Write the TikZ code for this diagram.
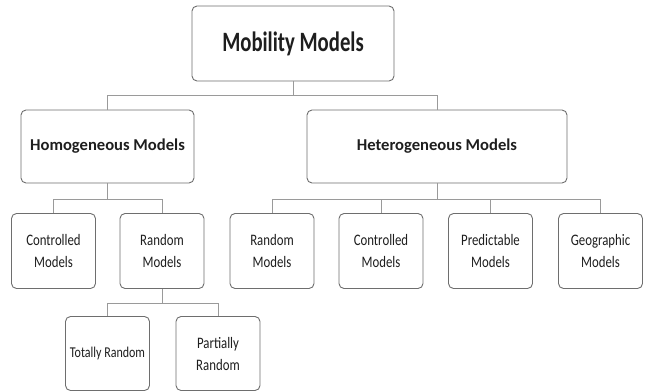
\documentclass[tikz,border=0pt]{standalone}
\usepackage{fontspec}
\setmainfont{Carlito}
\newfontfamily\condfont[FakeStretch=0.8]{Carlito}
\newfontfamily\tallfont[FakeStretch=0.74]{Carlito}
\definecolor{boxline}{HTML}{6E6E6E}
\definecolor{conline}{HTML}{9A9A9A}
\definecolor{txt}{HTML}{1E1E1E}
\begin{document}
\begin{tikzpicture}[x=1pt,y=-1pt,
  box/.style={draw=boxline, line width=0.9pt, rounded corners=5pt, fill=white,
    inner sep=0pt, align=center, text=txt},
  topbox/.style={box, minimum width=202pt, minimum height=75pt,
    font=\tallfont\bfseries\fontsize{28}{30}\selectfont},
  midbox/.style={box, minimum height=73pt,
    font=\bfseries\fontsize{16.6}{20}\selectfont},
  leaf/.style={box, minimum width=84pt, minimum height=75pt,
    font=\condfont\fontsize{16}{22}\selectfont},
  conn/.style={draw=conline, line width=0.9pt}]
\useasboundingbox (0,0) rectangle (645,391);

\node[topbox] (mob) at (293,43.5) {Mobility Models};
\node[midbox, minimum width=173pt] (hom) at (107.5,146.5) {Homogeneous Models};
\node[midbox, minimum width=260pt] (het) at (437,146.5) {Heterogeneous Models};

\node[leaf] (hctl) at (53.5,251) {Controlled\\Models};
\node[leaf] (hrnd) at (162,251) {Random\\Models};
\node[leaf] (trnd) at (272,251) {Random\\Models};
\node[leaf] (tctl) at (381,251) {Controlled\\Models};
\node[leaf] (tprd) at (490.5,251) {Predictable\\Models};
\node[leaf] (tgeo) at (600.5,251) {Geographic\\Models};

\node[leaf, minimum height=74pt, font=\condfont\fontsize{15}{22}\selectfont] (tot) at (107.5,353.5) {Totally Random};
\node[leaf, minimum height=74pt] (par) at (218,353.5) {Partially\\Random};

\coordinate (b1) at (0,95);
\coordinate (b2) at (0,199);
\coordinate (b3) at (0,303);

\draw[conn] (mob.south) -- (mob.south |- b1);
\draw[conn] (hom.north) |- (het.north |- b1) -- (het.north);

\draw[conn] (hom.south) -- (hom.south |- b2);
\draw[conn] (hctl.north) |- (hrnd.north |- b2) -- (hrnd.north);

\draw[conn] (het.south) -- (het.south |- b2);
\draw[conn] (trnd.north) |- (tgeo.north |- b2) -- (tgeo.north);
\draw[conn] (tctl.north) -- (tctl.north |- b2);
\draw[conn] (tprd.north) -- (tprd.north |- b2);

\draw[conn] (hrnd.south) -- (hrnd.south |- b3);
\draw[conn] (tot.north) |- (par.north |- b3) -- (par.north);
\end{tikzpicture}
\end{document}
